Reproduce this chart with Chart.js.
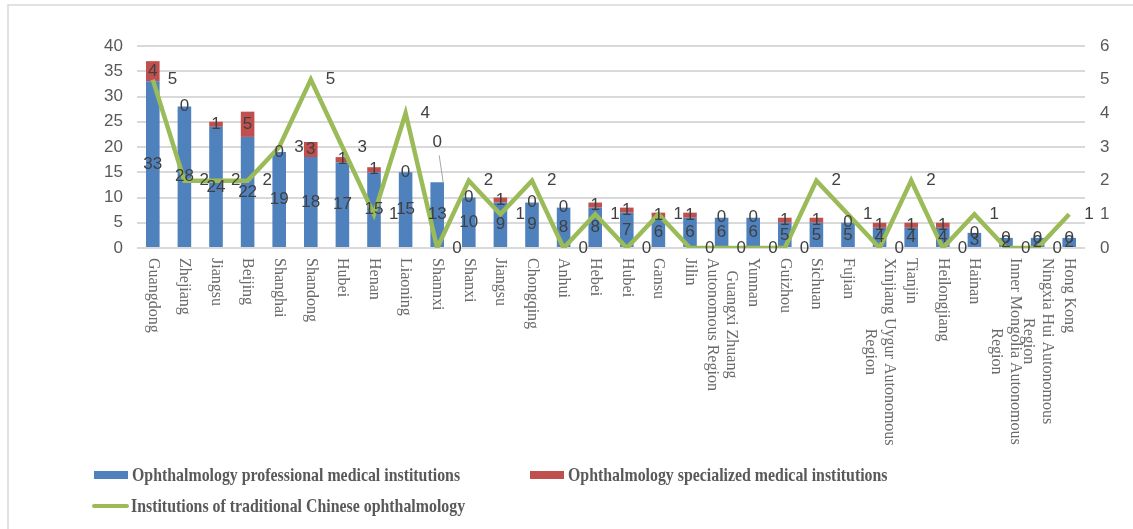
<!DOCTYPE html>
<html>
<head>
<meta charset="utf-8">
<script src="https://cdn.jsdelivr.net/npm/chart.js@4"></script>
<style>
  html, body { margin: 0; padding: 0; background: #ffffff; }
  #wrap { width: 1133px; height: 529px; position: relative; }
</style>
</head>
<body>
<div id="wrap"><canvas id="chart"></canvas></div>
<script>
// Regions, in the order they are plotted (multi-line labels are arrays)
const regions = [
  'Guangdong', 'Zhejiang', 'Jiangsu', 'Beijing', 'Shanghai', 'Shandong', 'Hubei', 'Henan',
  'Liaoning', 'Shannxi', 'Shanxi', 'Jiangsu', 'Chongqing', 'Anhui', 'Hebei', 'Hubei',
  'Gansu', 'Jilin', ['Guangxi Zhuang', 'Autonomous Region'], 'Yunnan', 'Guizhou', 'Sichuan',
  'Fujian', ['Xinjiang Uygur Autonomous', 'Region'], 'Tianjin', 'Heilongjiang', 'Hainan',
  ['Inner Mongolia Autonomous', 'Region'], ['Ningxia Hui Autonomous', 'Region'], 'Hong Kong'
];

// Ophthalmology professional medical institutions (left axis)
const professional = [33, 28, 24, 22, 19, 18, 17, 15, 15, 13, 10, 9, 9, 8, 8, 7, 6, 6, 6, 6, 5, 5, 5, 4, 4, 4, 3, 2, 2, 2];
// Ophthalmology specialized medical institutions (left axis, stacked)
const specialized = [4, 0, 1, 5, 0, 3, 1, 1, 0, 0, 0, 1, 0, 0, 1, 1, 1, 1, 0, 0, 1, 1, 0, 1, 1, 1, 0, 0, 0, 0];
// Institutions of traditional Chinese ophthalmology (right axis)
const traditional = [5, 2, 2, 2, 3, 5, 3, 1, 4, 0, 2, 1, 2, 0, 1, 0, 1, 0, 0, 0, 0, 2, 1, 0, 2, 0, 1, 0, 0, 1];

const seriesNames = [
  'Ophthalmology professional medical institutions',
  'Ophthalmology specialized medical institutions',
  'Institutions of traditional Chinese ophthalmology'
];

const BLUE = '#4f81bd', RED = '#c0504d', GREEN = '#9bbb59';
const LABEL_FONT = '17px "Liberation Sans Narrow", "Liberation Sans", sans-serif';

// White page with the thin frame along the top and left edges
const framePlugin = {
  id: 'frame',
  beforeDraw(chart) {
    const ctx = chart.ctx;
    ctx.save();
    ctx.fillStyle = '#ffffff';
    ctx.fillRect(0, 0, chart.width, chart.height);
    ctx.strokeStyle = '#d9d9d9';
    ctx.lineWidth = 1.5;
    ctx.beginPath();
    ctx.moveTo(8, chart.height);
    ctx.lineTo(8, 5);
    ctx.lineTo(chart.width, 5);
    ctx.stroke();
    ctx.restore();
  }
};

// Category names, written top-to-bottom under each bar
const categoryLabelPlugin = {
  id: 'categoryLabels',
  afterDraw(chart) {
    const ctx = chart.ctx;
    const xs = chart.scales.x;
    const top = chart.chartArea.bottom + 10;
    const lineGap = 19;
    ctx.save();
    ctx.font = '16px "Liberation Serif", "Times New Roman", serif';
    ctx.fillStyle = '#6a6a6a';
    ctx.textAlign = 'center';
    ctx.textBaseline = 'middle';
    regions.forEach((label, i) => {
      const lines = Array.isArray(label) ? label : [label];
      const maxW = Math.max(...lines.map(l => ctx.measureText(l).width));
      const x = xs.getPixelForValue(i);
      ctx.save();
      ctx.translate(x, top);
      ctx.rotate(Math.PI / 2);
      lines.forEach((line, k) => {
        const v = -((lines.length - 1) / 2 - k) * lineGap;
        ctx.fillText(line, maxW / 2, v);
      });
      ctx.restore();
    });
    ctx.restore();
  }
};

// Value labels on bar segments and beside line points
const valueLabelPlugin = {
  id: 'valueLabels',
  afterDatasetsDraw(chart) {
    const ctx = chart.ctx;
    const blueMeta = chart.getDatasetMeta(0);
    const redMeta = chart.getDatasetMeta(1);
    const lineMeta = chart.getDatasetMeta(2);
    const callouts = { 9: 40 }; // label lifted above the bar with a leader line
    ctx.save();
    ctx.font = LABEL_FONT;
    ctx.fillStyle = '#404040';
    ctx.textAlign = 'center';
    ctx.textBaseline = 'middle';

    blueMeta.data.forEach((bar, i) => {
      ctx.fillText(String(professional[i]), bar.x, (bar.y + bar.base) / 2);
    });

    redMeta.data.forEach((bar, i) => {
      let y = (bar.y + bar.base) / 2;
      if (callouts[i]) {
        const ly = y - callouts[i];
        ctx.save();
        ctx.strokeStyle = '#a6a6a6';
        ctx.lineWidth = 1;
        ctx.beginPath();
        ctx.moveTo(bar.x + 2, ly + 13);
        ctx.lineTo(bar.x + 6, y);
        ctx.stroke();
        ctx.restore();
        y = ly;
      }
      ctx.fillText(String(specialized[i]), bar.x, y);
    });

    ctx.textAlign = 'left';
    lineMeta.data.forEach((pt, i) => {
      ctx.fillText(String(traditional[i]), pt.x + 15, pt.y);
    });
    ctx.restore();
  }
};

// Legend at the foot of the chart
const legendPlugin = {
  id: 'footLegend',
  afterDraw(chart) {
    const ctx = chart.ctx;
    const items = [
      { kind: 'box', color: BLUE, text: seriesNames[0], x: 94, y: 475 },
      { kind: 'box', color: RED, text: seriesNames[1], x: 530, y: 475 },
      { kind: 'line', color: GREEN, text: seriesNames[2], x: 93, y: 506 }
    ];
    ctx.save();
    ctx.font = 'bold 19px "Liberation Serif", "Times New Roman", serif';
    ctx.textBaseline = 'middle';
    ctx.textAlign = 'left';
    items.forEach(it => {
      if (it.kind === 'box') {
        ctx.fillStyle = it.color;
        ctx.fillRect(it.x, it.y - 4, 34, 8);
      } else {
        ctx.strokeStyle = it.color;
        ctx.lineWidth = 4;
        ctx.lineCap = 'round';
        ctx.beginPath();
        ctx.moveTo(it.x + 1, it.y);
        ctx.lineTo(it.x + 34, it.y);
        ctx.stroke();
      }
      ctx.save();
      ctx.translate(it.x + 38, it.y + 1);
      ctx.scale(0.835, 1);
      ctx.fillStyle = '#595959';
      ctx.fillText(it.text, 0, 0);
      ctx.restore();
    });
    ctx.restore();
  }
};

new Chart(document.getElementById('chart'), {
  type: 'bar',
  data: {
    labels: regions,
    datasets: [
      {
        label: seriesNames[0],
        data: professional,
        backgroundColor: BLUE,
        stack: 'inst',
        yAxisID: 'y',
        order: 2,
        barPercentage: 0.43,
        categoryPercentage: 1
      },
      {
        label: seriesNames[1],
        data: specialized,
        backgroundColor: RED,
        stack: 'inst',
        yAxisID: 'y',
        order: 2,
        barPercentage: 0.43,
        categoryPercentage: 1
      },
      {
        type: 'line',
        label: seriesNames[2],
        data: traditional,
        borderColor: GREEN,
        backgroundColor: GREEN,
        borderWidth: 4.5,
        pointRadius: 0,
        tension: 0,
        yAxisID: 'y1',
        order: 0
      }
    ]
  },
  options: {
    responsive: true,
    maintainAspectRatio: false,
    animation: false,
    layout: { padding: { top: 46, left: 0, right: 0, bottom: 0 } },
    plugins: {
      legend: { display: false },
      tooltip: { enabled: false }
    },
    scales: {
      x: {
        stacked: true,
        offset: true,
        grid: { display: false, drawTicks: false },
        border: { display: false },
        ticks: { display: false },
        afterFit(scale) { scale.height = 281; }
      },
      y: {
        position: 'left',
        stacked: true,
        min: 0,
        max: 40,
        ticks: {
          stepSize: 5,
          padding: 14,
          color: '#595959',
          font: { family: '"Liberation Sans Narrow", "Liberation Sans", sans-serif', size: 17 }
        },
        grid: { color: '#d9d9d9', lineWidth: 2, drawTicks: false },
        border: { display: false },
        afterFit(scale) { scale.width = 137; }
      },
      y1: {
        position: 'right',
        min: 0,
        max: 6,
        ticks: {
          stepSize: 1,
          padding: 15,
          color: '#595959',
          font: { family: '"Liberation Sans Narrow", "Liberation Sans", sans-serif', size: 17 }
        },
        grid: { display: false, drawTicks: false },
        border: { display: false },
        afterFit(scale) { scale.width = 48; }
      }
    }
  },
  plugins: [framePlugin, categoryLabelPlugin, valueLabelPlugin, legendPlugin]
});
</script>
</body>
</html>
